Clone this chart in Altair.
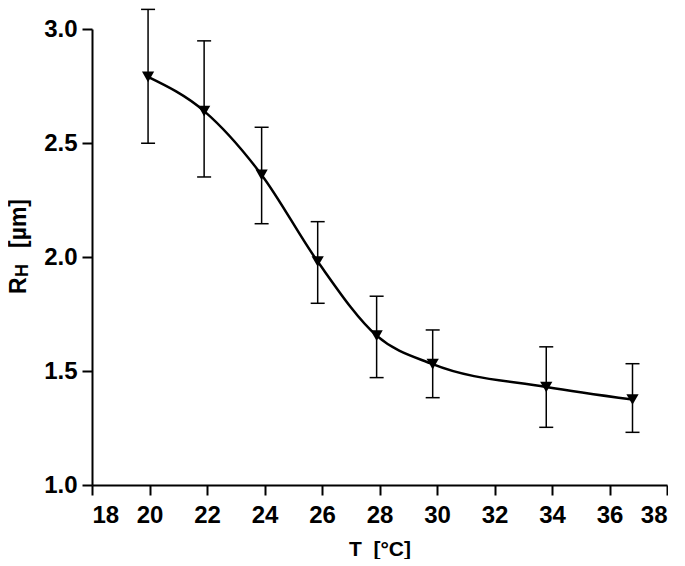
import altair as alt
import pandas as pd

# Data
temperature = [19.95, 21.9, 23.9, 25.85, 27.9, 29.85, 33.8, 36.8]
radius = [2.79, 2.64, 2.36, 1.98, 1.655, 1.53, 1.43, 1.375]
err_upper = [3.086, 2.948, 2.569, 2.155, 1.828, 1.680, 1.606, 1.532]
err_lower = [2.499, 2.351, 2.146, 1.797, 1.471, 1.383, 1.253, 1.231]

x_ticks = [18, 20, 22, 24, 26, 28, 30, 32, 34, 36, 38]
y_ticks = [1.0, 1.5, 2.0, 2.5, 3.0]

# y-axis title pieces: R with subscript H, then the unit
y_title_parts = ["R", "H", "[µm]"]

df = pd.DataFrame({"T": temperature, "R": radius, "hi": err_upper, "lo": err_lower})

FONT = "Liberation Sans"
NBSP = "\u00a0"

x_enc = alt.X(
    "T:Q",
    scale=alt.Scale(domain=[18, 38], nice=False, zero=False),
    axis=alt.Axis(
        values=x_ticks, format="d", title=f"T{NBSP}{NBSP}[°C]",
        titleY=70, titleBaseline="alphabetic",
        titleFontSize=21,
        labelPadding=8,
    ),
)
y_scale = alt.Scale(domain=[1.0, 3.0], nice=False, zero=False)
y_enc = alt.Y("R:Q", scale=y_scale,
              axis=alt.Axis(values=y_ticks, format=".1f", title=None, labelPadding=5))

base = alt.Chart(df)

bars = base.mark_rule(color="black", strokeWidth=1.5).encode(
    x=x_enc, y=alt.Y("hi:Q", scale=y_scale), y2="lo:Q"
)
caps_hi = base.mark_tick(orient="horizontal", size=14, thickness=1.5,
                         color="black", opacity=1).encode(
    x="T:Q", y=alt.Y("hi:Q", scale=y_scale)
)
caps_lo = base.mark_tick(orient="horizontal", size=14, thickness=1.5,
                         color="black", opacity=1).encode(
    x="T:Q", y=alt.Y("lo:Q", scale=y_scale)
)
line = base.mark_line(color="black", strokeWidth=2.5, interpolate="monotone").encode(
    x="T:Q", y=y_enc
)
pts = base.mark_point(shape="triangle-down", size=150, filled=True,
                      color="black", opacity=1).encode(x="T:Q", y="R:Q")

# y-axis title R_H [µm] built from rotated text pieces (one text each)
title_style = dict(angle=270, align="left", baseline="middle",
                   font=FONT, fontWeight="bold", color="black")


def title_piece(txt, size, px, py):
    return alt.Chart(pd.DataFrame({"label": [txt]})).mark_text(
        fontSize=size, **title_style
    ).encode(text="label:N", x=alt.value(px), y=alt.value(py))


t_r = title_piece(y_title_parts[0], 23, -73, 265)
t_h = title_piece(y_title_parts[1], 18, -69, 248)
t_u = title_piece(y_title_parts[2], 23, -73, 219)

chart = alt.layer(bars, caps_hi, caps_lo, line, pts, t_r, t_h, t_u).properties(
    width=575, height=456,
    padding={"left": 0, "top": 0, "right": 0, "bottom": 0},
).configure_view(stroke=None).configure_axis(
    grid=False,
    domainColor="black", domainWidth=2,
    tickColor="black", tickWidth=2, tickSize=10,
    labelFont=FONT, labelFontSize=24, labelFontWeight="bold", labelColor="black",
    titleFont=FONT, titleFontSize=21, titleFontWeight="bold", titleColor="black",
)

chart.save("out.html", embed_options={"renderer": "svg", "actions": False})
